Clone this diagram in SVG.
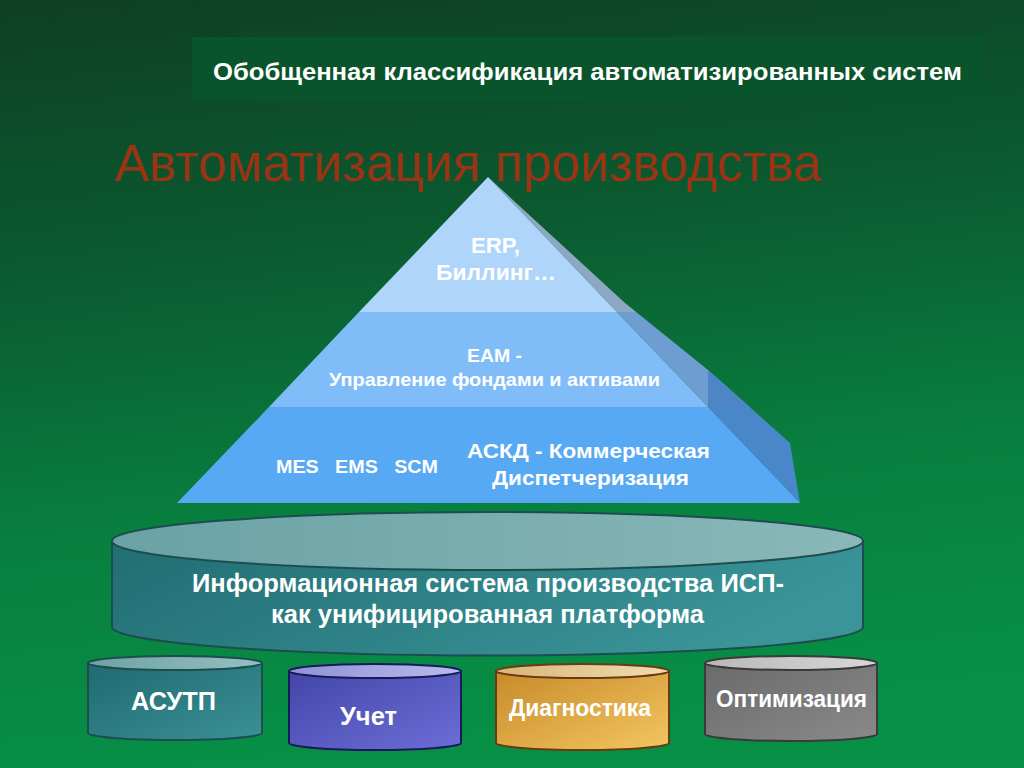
<svg xmlns="http://www.w3.org/2000/svg" width="1024" height="768" viewBox="0 0 1024 768">
<defs>
<linearGradient id="bg" x1="0" y1="0" x2="0.15" y2="1">
<stop offset="0" stop-color="#0e3f24"/>
<stop offset="0.35" stop-color="#0b5a30"/>
<stop offset="0.7" stop-color="#08803f"/>
<stop offset="1" stop-color="#078f46"/>
</linearGradient>
<linearGradient id="bigBody" x1="0" y1="0" x2="1" y2="0.3">
<stop offset="0" stop-color="#216d72"/>
<stop offset="1" stop-color="#3a9498"/>
</linearGradient>
<linearGradient id="bigTop" x1="0" y1="0" x2="1" y2="0">
<stop offset="0" stop-color="#6aa2a5"/>
<stop offset="1" stop-color="#8ab8b8"/>
</linearGradient>
<linearGradient id="tealBody" x1="0" y1="0" x2="1" y2="1">
<stop offset="0" stop-color="#1f6a70"/>
<stop offset="1" stop-color="#3a9196"/>
</linearGradient>
<linearGradient id="tealTop" x1="0" y1="0" x2="1" y2="0">
<stop offset="0" stop-color="#6ea2a5"/>
<stop offset="1" stop-color="#95c0c0"/>
</linearGradient>
<linearGradient id="purBody" x1="0" y1="0" x2="1" y2="1">
<stop offset="0" stop-color="#4346a8"/>
<stop offset="1" stop-color="#6c6ed6"/>
</linearGradient>
<linearGradient id="purTop" x1="0" y1="0" x2="1" y2="0">
<stop offset="0" stop-color="#8f92d6"/>
<stop offset="1" stop-color="#b8bbec"/>
</linearGradient>
<linearGradient id="goldBody" x1="0" y1="0" x2="1" y2="1">
<stop offset="0" stop-color="#c88a2a"/>
<stop offset="1" stop-color="#f2c660"/>
</linearGradient>
<linearGradient id="goldTop" x1="0" y1="0" x2="1" y2="0">
<stop offset="0" stop-color="#d8b57a"/>
<stop offset="1" stop-color="#f0dcb0"/>
</linearGradient>
<linearGradient id="grayBody" x1="0" y1="0" x2="1" y2="1">
<stop offset="0" stop-color="#6a6a6a"/>
<stop offset="1" stop-color="#8a8a8a"/>
</linearGradient>
<linearGradient id="grayTop" x1="0" y1="0" x2="1" y2="0">
<stop offset="0" stop-color="#b8b8b8"/>
<stop offset="1" stop-color="#d8d8d8"/>
</linearGradient>
<clipPath id="sideClip">
<polygon points="488,177 625,303 708,370 790,443 800,503"/>
</clipPath>
<style>
.w{fill:#ffffff;font-family:"Liberation Sans",Arial,sans-serif;font-weight:bold}
.c{text-anchor:middle}
</style>
</defs>
<rect x="0" y="0" width="1024" height="768" fill="url(#bg)"/>

<g id="header">
<rect x="192" y="37" width="792" height="64" fill="#0a542b"/>
<text class="w" x="213" y="80" font-size="24" textLength="749" lengthAdjust="spacingAndGlyphs">Обобщенная классификация автоматизированных систем</text>
</g>

<g id="title">
<text x="115" y="181" font-family="'Liberation Sans',Arial,sans-serif" font-size="51" fill="#9b3315" textLength="707" lengthAdjust="spacingAndGlyphs">Автоматизация производства</text>
</g>

<g id="pyramid">
<g clip-path="url(#sideClip)">
<rect x="480" y="170" width="330" height="142" fill="#8ea8c4"/>
<rect x="480" y="312" width="330" height="95" fill="#6e9dd2"/>
<rect x="708" y="360" width="100" height="47" fill="#4d85c6"/>
<rect x="480" y="407" width="330" height="100" fill="#4a86ca"/>
</g>
<polygon points="488,177 617,312 359,312" fill="#afd5fb"/>
<polygon points="359,312 617,312 708,407 269,407" fill="#80bdf8"/>
<polygon points="269,407 708,407 800,503 177,503" fill="#57a9f4"/>
<text class="w" x="471" y="253" font-size="22" textLength="49" lengthAdjust="spacingAndGlyphs">ERP,</text>
<text class="w" x="436" y="280" font-size="22" textLength="120" lengthAdjust="spacingAndGlyphs">Биллинг…</text>
<text class="w" x="467" y="362" font-size="19" textLength="55" lengthAdjust="spacingAndGlyphs">EAM -</text>
<text class="w" x="329" y="386" font-size="19" textLength="331" lengthAdjust="spacingAndGlyphs">Управление фондами и активами</text>
<text class="w" x="276" y="473" font-size="19" textLength="162" lengthAdjust="spacingAndGlyphs" xml:space="preserve">MES   EMS   SCM</text>
<text class="w" x="467" y="458" font-size="21" textLength="243" lengthAdjust="spacingAndGlyphs">АСКД - Коммерческая</text>
<text class="w" x="492" y="485" font-size="21" textLength="197" lengthAdjust="spacingAndGlyphs">Диспетчеризация</text>
</g>

<g id="platform">
<path d="M112,541 L112,628 A376,29 0 0 0 863,628 L863,541 Z" fill="url(#bigBody)" stroke="#1d4d4f" stroke-width="2"/>
<ellipse cx="487.5" cy="541" rx="375.5" ry="29" fill="url(#bigTop)" stroke="#1d4d4f" stroke-width="2"/>
<text class="w" x="192" y="592" font-size="25" textLength="592" lengthAdjust="spacingAndGlyphs">Информационная система производства ИСП-</text>
<text class="w" x="271" y="623" font-size="25" textLength="433" lengthAdjust="spacingAndGlyphs">как унифицированная платформа</text>
</g>

<g id="asutp">
<path d="M88,663 L88,733 A87,7 0 0 0 262,733 L262,663 Z" fill="url(#tealBody)" stroke="#1d4d4f" stroke-width="2"/>
<ellipse cx="175" cy="663" rx="87" ry="7" fill="url(#tealTop)" stroke="#1d4d4f" stroke-width="2"/>
<text class="w" x="131" y="710" font-size="26" textLength="85" lengthAdjust="spacingAndGlyphs">АСУТП</text>
</g>

<g id="uchet">
<path d="M289,671 L289,743 A86,7 0 0 0 461,743 L461,671 Z" fill="url(#purBody)" stroke="#1a1a5a" stroke-width="2"/>
<ellipse cx="375" cy="671" rx="86" ry="7" fill="url(#purTop)" stroke="#1a1a5a" stroke-width="2"/>
<text class="w" x="340" y="725" font-size="25" textLength="57" lengthAdjust="spacingAndGlyphs">Учет</text>
</g>

<g id="diag">
<path d="M496,671 L496,743 A86.5,7 0 0 0 669,743 L669,671 Z" fill="url(#goldBody)" stroke="#6a3a10" stroke-width="2"/>
<ellipse cx="582.5" cy="671" rx="86.5" ry="7" fill="url(#goldTop)" stroke="#6a3a10" stroke-width="2"/>
<text class="w" x="509" y="716" font-size="23" textLength="142" lengthAdjust="spacingAndGlyphs">Диагностика</text>
</g>

<g id="optim">
<path d="M705,663 L705,734 A86,7 0 0 0 877,734 L877,663 Z" fill="url(#grayBody)" stroke="#3a3a3a" stroke-width="2"/>
<ellipse cx="791" cy="663" rx="86" ry="7" fill="url(#grayTop)" stroke="#3a3a3a" stroke-width="2"/>
<text class="w" x="716" y="707" font-size="23" textLength="151" lengthAdjust="spacingAndGlyphs">Оптимизация</text>
</g>
</svg>
